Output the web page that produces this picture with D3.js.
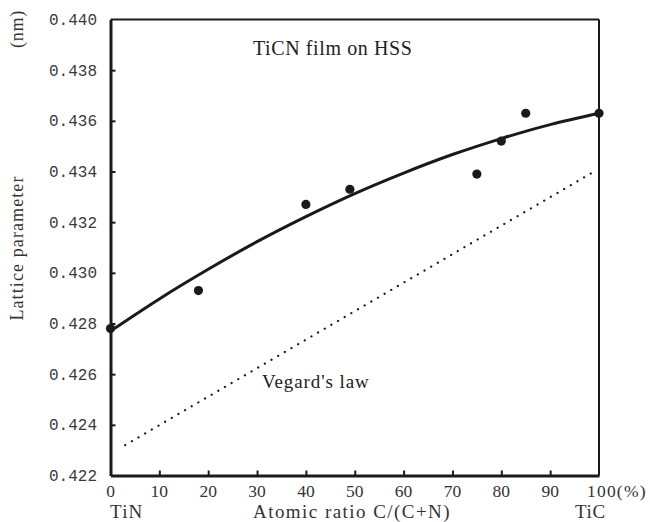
<!DOCTYPE html>
<html><head><meta charset="utf-8">
<script src="https://cdn.jsdelivr.net/npm/d3@7"></script>
<style>body{margin:0;background:#fff}</style>
</head><body><svg id="c" width="650" height="522"></svg>
<script>
// Data
const xTicks = [0,10,20,30,40,50,60,70,80,90,100];
const yTicks = [0.422,0.424,0.426,0.428,0.430,0.432,0.434,0.436,0.438,0.440];
const pointX = [0, 18, 40, 49, 75, 80, 85, 100];
const pointY = [0.4278, 0.4293, 0.4327, 0.4333, 0.4339, 0.4352, 0.4363, 0.4363];
const fitX = [0,10,20,30,40,50,60,70,80,90,100];
const fitY = [0.42770,0.42897,0.43014,0.43123,0.43222,0.43313,0.43394,0.43467,0.43530,0.43585,0.43630];
const vegardX = [3, 99];
const vegardY = [0.4232, 0.4340];

const svg = d3.select('#c');
const x = d3.scaleLinear().domain([0,100]).range([110.5,599]);
const y = d3.scaleLinear().domain([0.422,0.440]).range([475.5,19.5]);
const ink = '#1a1a1a';
const serif = '"Liberation Serif","DejaVu Serif",serif';
const mono = '"Liberation Mono","DejaVu Sans Mono",monospace';

// frame top & right
svg.append('line').attr('x1',x(0)).attr('x2',x(100)).attr('y1',y(0.440)).attr('y2',y(0.440)).attr('stroke',ink).attr('stroke-width',2);
svg.append('line').attr('x1',x(100)).attr('x2',x(100)).attr('y1',y(0.440)).attr('y2',y(0.422)).attr('stroke',ink).attr('stroke-width',2);

// axes
const xAxis = d3.axisBottom(x).tickValues(xTicks.filter(d=>d>0&&d<100)).tickSizeInner(-5).tickSizeOuter(0).tickFormat('');
const gx = svg.append('g').attr('transform',`translate(0,${y(0.422)})`).call(xAxis);
gx.select('.domain').attr('stroke',ink).attr('stroke-width',3);
gx.selectAll('.tick line').attr('stroke',ink).attr('stroke-width',2);

const yAxis = d3.axisLeft(y).tickValues(yTicks.filter(d=>d>0.4221&&d<0.4399)).tickSizeInner(-5).tickSizeOuter(0).tickFormat('');
const gy = svg.append('g').attr('transform',`translate(${x(0)},0)`).call(yAxis);
gy.select('.domain').attr('stroke',ink).attr('stroke-width',3);
gy.selectAll('.tick line').attr('stroke',ink).attr('stroke-width',2);

// tick labels
svg.append('g').selectAll('text').data(yTicks).join('text')
  .attr('x',97).attr('y',d=>y(d)).attr('dy','0.35em').attr('text-anchor','end')
  .attr('font-family',mono).attr('font-size',16).attr('fill','#3a3a3a')
  .text(d=>d.toFixed(3));
svg.append('g').selectAll('text').data(xTicks).join('text')
  .attr('x',d=>x(d)).attr('y',497).attr('text-anchor',d=>d===100?'start':'middle')
  .attr('dx',d=>d===100?-12:0)
  .attr('font-family',serif).attr('font-size',17.5).attr('fill','#333')
  .attr('letter-spacing',d=>d===100?1.2:0)
  .text(d=>d===100?'100(%)':d);

// axis titles
svg.append('text').attr('transform','translate(23,248) rotate(-90)').attr('text-anchor','middle')
  .attr('font-family',serif).attr('font-size',18).attr('fill','#333').attr('letter-spacing',1.1).text('Lattice parameter');
svg.append('text').attr('transform','translate(23,29) rotate(-90)').attr('text-anchor','middle')
  .attr('font-family',serif).attr('font-size',18).attr('fill','#333').attr('letter-spacing',0.8).text('(nm)');
svg.append('text').attr('x',110).attr('y',518).attr('font-family',serif).attr('font-size',19).attr('fill','#333').attr('letter-spacing',1.2).text('TiN');
svg.append('text').attr('x',253).attr('y',518).attr('font-family',serif).attr('font-size',19).attr('fill','#333').attr('letter-spacing',1.45).text('Atomic ratio C/(C+N)');
svg.append('text').attr('x',575).attr('y',518).attr('font-family',serif).attr('font-size',19).attr('fill','#333').attr('letter-spacing',0.6).text('TiC');

// annotations
svg.append('text').attr('x',253).attr('y',55).attr('font-family',serif).attr('font-size',20).attr('fill','#222').attr('letter-spacing',0.6).text('TiCN film on HSS');
svg.append('text').attr('x',262).attr('y',388).attr('font-family',serif).attr('font-size',19).attr('fill','#222').attr('letter-spacing',0.9).text("Vegard's law");

// Vegard dotted line
svg.append('path').datum(vegardX.map((d,i)=>[d,vegardY[i]]))
  .attr('d',d3.line().x(d=>x(d[0])).y(d=>y(d[1])))
  .attr('fill','none').attr('stroke',ink).attr('stroke-width',2.2)
  .attr('stroke-linecap','round').attr('stroke-dasharray','0.1 7.6');

// fit curve
svg.append('path').datum(fitX.map((d,i)=>[d,fitY[i]]))
  .attr('d',d3.line().x(d=>x(d[0])).y(d=>y(d[1])).curve(d3.curveNatural))
  .attr('fill','none').attr('stroke',ink).attr('stroke-width',3);

// points
svg.append('g').selectAll('circle').data(pointX.map((d,i)=>[d,pointY[i]])).join('circle')
  .attr('cx',d=>x(d[0])).attr('cy',d=>y(d[1])).attr('r',4.6).attr('fill',ink);
</script></body></html>
